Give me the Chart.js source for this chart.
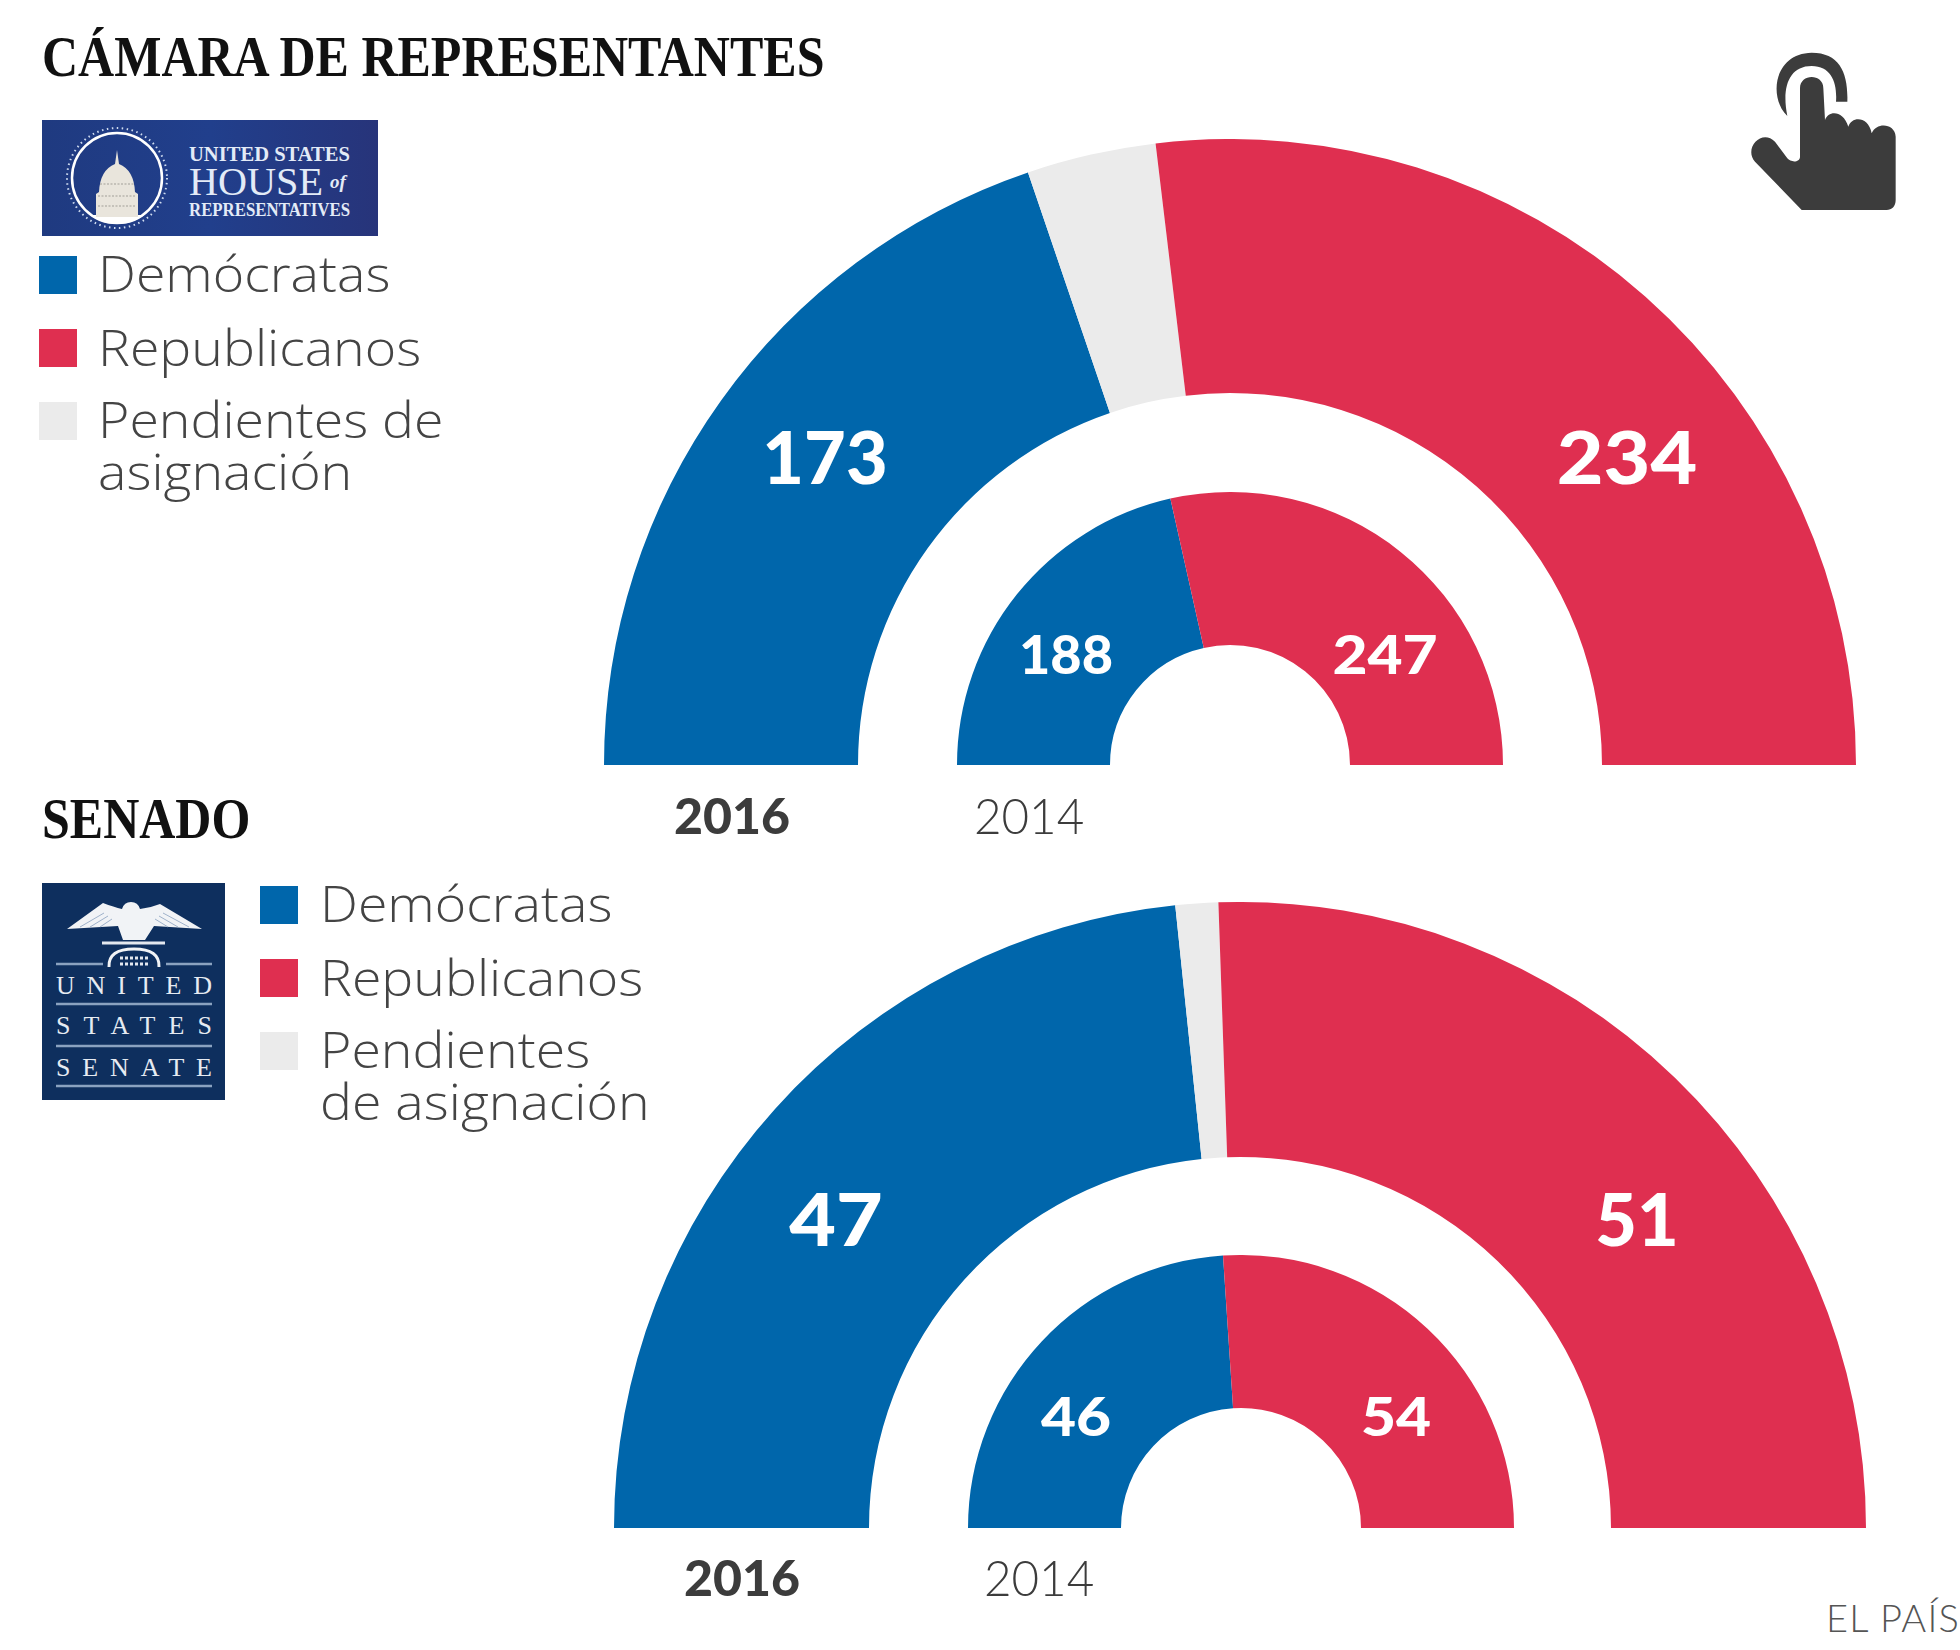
<!DOCTYPE html>
<html lang="es">
<head>
<meta charset="utf-8">
<title>Cámara de Representantes y Senado</title>
<script src="https://cdn.jsdelivr.net/npm/chart.js@4"></script>
<style>
    html, body { margin: 0; padding: 0; background: #fff; }
    #page { position: relative; width: 1960px; height: 1650px; overflow: hidden; color: #444; font-family: Lato, sans-serif; }
    #page > * { position: absolute; }
    .title { font: bold 58px/58px "Liberation Serif", serif; color: #111; transform: scaleX(0.862); transform-origin: left top; white-space: nowrap; }
    .swatch { width: 38px; height: 38px; }
    .legendText { font-family: "Open Sans", sans-serif; font-weight: 300; font-size: 49px; line-height: 52px; white-space: pre; transform: scaleX(1.095); transform-origin: left top; }
    .year { font-size: 50px; line-height: 50px; color: #3c3c3c; transform-origin: left top; }
    .year.now { font-weight: 900; }
    .year.before { font-weight: 300; transform: scaleX(0.95); }
    .credit { font-weight: 300; font-size: 38px; line-height: 38px; letter-spacing: 1.2px; color: #555; white-space: nowrap; }
</style>
</head>
<body>
<div id="page">
    <div class="title" style="left: 42px; top: 28px;">CÁMARA DE REPRESENTANTES</div>
    <div class="title" style="left: 42px; top: 790px;">SENADO</div>

    <svg style="left: 42px; top: 120px;" width="336" height="116" viewBox="0 0 336 116">
        <defs>
            <linearGradient id="houseBg" x1="0" x2="1" y1="0" y2="0">
                <stop offset="0" stop-color="#1f3a80"/>
                <stop offset="0.5" stop-color="#213f8c"/>
                <stop offset="1" stop-color="#27347a"/>
            </linearGradient>
            <clipPath id="sealClip"><circle cx="75" cy="58" r="46"/></clipPath>
        </defs>
        <rect width="336" height="116" fill="url(#houseBg)"/>
        <circle cx="75" cy="58" r="50" fill="none" stroke="#cfdcf0" stroke-width="2" stroke-dasharray="1.5 3.5"/>
        <circle cx="75" cy="58" r="45" fill="none" stroke="#fff" stroke-width="2.5"/>
        <rect x="25" y="95" width="100" height="12" fill="#fff" clip-path="url(#sealClip)"/>
        <path d="M75 30 L77 44 Q92 50 93 72 L96 74 V97 H54 V74 L57 72 Q58 50 73 44 Z" fill="#e9e5dc"/>
        <path d="M58 64 H92 M56 76 H94 M56 86 H94" stroke="#b9b6ae" stroke-width="1.5" stroke-dasharray="2 1.5"/>
        <g fill="#e3ebf7" font-family="Liberation Serif, serif">
            <text x="147" y="41" font-size="20" font-weight="bold" textLength="161" lengthAdjust="spacingAndGlyphs">UNITED STATES</text>
            <text x="147" y="75" font-size="41" textLength="134" lengthAdjust="spacingAndGlyphs">HOUSE</text>
            <text x="288" y="68" font-size="19" font-style="italic" font-weight="bold">of</text>
            <text x="147" y="96" font-size="18" font-weight="bold" textLength="161" lengthAdjust="spacingAndGlyphs">REPRESENTATIVES</text>
        </g>
    </svg>

    <svg style="left: 42px; top: 883px;" width="183" height="217" viewBox="0 0 183 217">
        <rect width="183" height="217" fill="#0e2f5e"/>
        <path d="M25 46 L61 20 Q72 24 80 26 Q82 19 89 19 Q96 19 98 26 Q108 25 118 21 L160 46 L112 43 L103 57 H81 L76 43 Z" fill="#f1f3f6"/>
        <path d="M38 44 L62 30 M48 44 L66 33 M58 44 L70 36 M147 44 L121 30 M136 44 L117 33 M126 44 L113 36" stroke="#9fb2cb" stroke-width="1"/>
        <path d="M60 60 H123" stroke="#e3e8ef" stroke-width="3"/>
        <path d="M67 84 Q66 66 92 66 Q118 66 117 84" fill="none" stroke="#f1f3f6" stroke-width="3"/>
        <path d="M78 75 H106 M78 81 H106" stroke="#e3e8ef" stroke-width="3" stroke-dasharray="3 2"/>
        <g stroke="#8aa2c0" stroke-width="2.5">
            <path d="M14 81 H61 M124 81 H170"/>
            <path d="M14 121 H170"/>
            <path d="M14 163 H170"/>
            <path d="M14 203 H170"/>
        </g>
        <g fill="#e6ebf2" font-family="Liberation Serif, serif" font-size="26">
            <text x="14" y="111" textLength="156">UNITED</text>
            <text x="14" y="151" textLength="156">STATES</text>
            <text x="14" y="193" textLength="156">SENATE</text>
        </g>
    </svg>

    <svg style="left: 1700px; top: 30px;" width="200" height="190" viewBox="0 0 600 570">
        <path fill="#3c3c3c" d="M262 258 C205 205 220 70 335 68 C420 68 445 130 442 215 L408 215 C412 160 395 108 335 108 C265 108 245 175 262 258 Z"/>
        <path fill="#3c3c3c" d="M300 175 C300 130 370 130 370 175 L375 270 C385 240 430 240 445 290 C455 258 505 258 515 310 C530 275 585 280 587 320 L587 510 C587 530 575 540 560 540 L305 540 L165 395 C130 355 185 295 225 335 L262 385 C272 398 300 398 300 380 Z"/>
    </svg>

    <div class="credit" style="left: 1826px; top: 1598px;">EL PAÍS</div>
</div>

<script>
const parties = ['Demócratas', 'Pendientes de asignación', 'Republicanos'];
const partyColors = ['#0066ab', '#ebebeb', '#df2f50'];
const yearLabels = ['2016', '2014'];

// Ring shares as measured on the picture (the original arcs do not quite follow its printed numbers)
const house2016 = [172, 29, 234];
const house2014 = [187, 0, 248];
const senate2016 = [46.7, 2.2, 51.1];
const senate2014 = [47.9, 0, 52.1];

// Numbers printed on the rings, in party order
const house2016Printed = [173, null, 234];
const house2014Printed = [188, null, 247];
const senate2016Printed = [47, null, 51];
const senate2014Printed = [46, null, 54];

const houseLegend = ['Demócratas', 'Republicanos', 'Pendientes de\nasignación'];
const senateLegend = ['Demócratas', 'Republicanos', 'Pendientes\nde asignación'];
const legendColors = ['#0066ab', '#df2f50', '#ebebeb'];

const page = document.getElementById('page');

const printedLabels = {
    id: 'printedLabels',
    afterDatasetsDraw: (chart, args, opts) => {
        const { ctx } = chart;
        const arc = chart.getDatasetMeta(0).data[0];
        ctx.save();
        ctx.fillStyle = '#fff';
        ctx.textAlign = 'center';
        ctx.textBaseline = 'middle';
        ctx.font = opts.font;
        opts.printed.forEach((value, i) => {
            if (value === null) return;
            const text = String(value);
            ctx.save();
            ctx.translate(arc.x + opts.dx[i], arc.y + opts.dy);
            // the original's digits are wider than Lato's, apart from the narrow 1
            if (!text.includes('1')) ctx.scale(1.12, 1);
            ctx.fillText(text, 0, 0);
            ctx.restore();
        });
        ctx.restore();
    },
};

const addRing = (centerX, baseY, outer, inner, values, printed, font, dx, dy) => {
    const canvas = document.createElement('canvas');
    canvas.width = outer * 2;
    canvas.height = outer;
    canvas.style.cssText = `left: ${centerX - outer}px; top: ${baseY - outer}px;`;
    page.appendChild(canvas);

    new Chart(canvas, {
        type: 'doughnut',
        plugins: [printedLabels],
        data: {
            labels: parties,
            datasets: [{ data: values, backgroundColor: partyColors, borderWidth: 0 }],
        },
        options: {
            responsive: false,
            animation: false,
            rotation: -90,
            circumference: 180,
            cutout: `${(inner / outer) * 100}%`,
            layout: { padding: 0 },
            plugins: {
                legend: { display: false },
                tooltip: { enabled: false },
                printedLabels: { printed, font, dx, dy },
            },
        },
    });
};

const addLegend = (items, swatchLeft, textLeft, swatchTops, textTops) => {
    items.forEach((item, i) => {
        const swatch = document.createElement('div');
        swatch.className = 'swatch';
        swatch.style.cssText = `left: ${swatchLeft}px; top: ${swatchTops[i]}px; background: ${legendColors[i]};`;
        page.appendChild(swatch);

        const text = document.createElement('div');
        text.className = 'legendText';
        text.style.cssText = `left: ${textLeft}px; top: ${textTops[i]}px;`;
        text.textContent = item;
        page.appendChild(text);
    });
};

const addYears = (lefts, top) => {
    yearLabels.forEach((year, i) => {
        const label = document.createElement('div');
        label.className = i === 0 ? 'year now' : 'year before';
        label.style.cssText = `left: ${lefts[i]}px; top: ${top}px;`;
        label.textContent = year;
        page.appendChild(label);
    });
};

const bigFont = '900 72px Lato';
const smallFont = '900 54px Lato';

addRing(1230, 765, 626, 372, house2016, house2016Printed, bigFont, [-405, 0, 397], -304);
addRing(1230, 765, 273, 120, house2014, house2014Printed, smallFont, [-164, 0, 155], -108);
addRing(1240, 1528, 626, 371, senate2016, senate2016Printed, bigFont, [-404, 0, 397], -305);
addRing(1241, 1528, 273, 120, senate2014, senate2014Printed, smallFont, [-165, 0, 155], -109);

addLegend(houseLegend, 39, 98, [256, 329, 402], [247, 321, 393]);
addLegend(senateLegend, 260, 320, [886, 959, 1032], [877, 951, 1023]);
addYears([674, 974], 790);
addYears([684, 984], 1552);
</script>
</body>
</html>
